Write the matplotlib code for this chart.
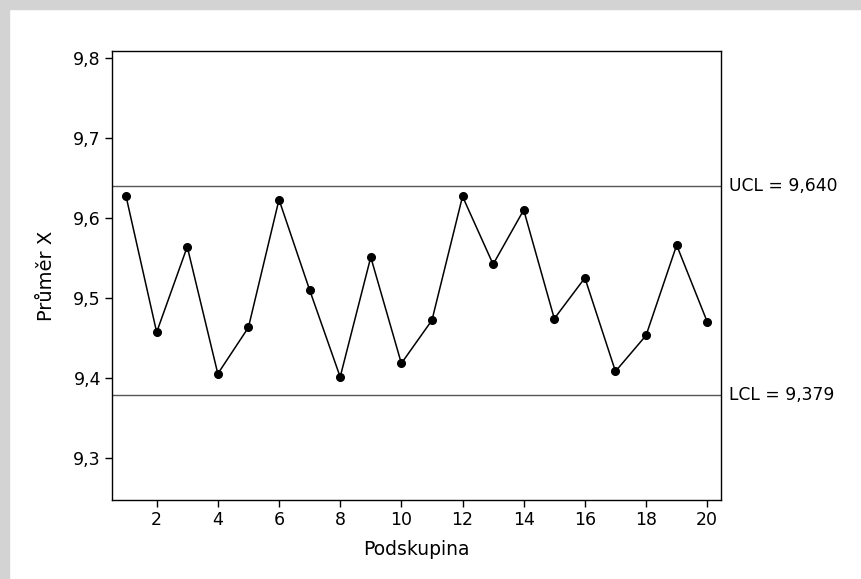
import matplotlib.pyplot as plt
from matplotlib.patches import Rectangle

# průměry podskupin
podskupina = list(range(1, 21))
prumery = [9.627, 9.457, 9.564, 9.405, 9.463, 9.623, 9.510, 9.401, 9.551, 9.418,
           9.472, 9.627, 9.542, 9.610, 9.474, 9.525, 9.408, 9.453, 9.566, 9.470]
UCL = 9.640
LCL = 9.379

y_ticks = [9.3, 9.4, 9.5, 9.6, 9.7, 9.8]
y_labels = ["9,3", "9,4", "9,5", "9,6", "9,7", "9,8"]
x_ticks = list(range(2, 21, 2))

fig = plt.figure(figsize=(8.61, 5.79), dpi=100)
# šedý rámeček nahoře a vlevo
fig.patches.append(Rectangle((0, 1 - 8.5 / 579), 1, 8.5 / 579, transform=fig.transFigure,
                             color="#d3d3d3", zorder=0))
fig.patches.append(Rectangle((0, 0), 8.5 / 861, 1, transform=fig.transFigure,
                             color="#d3d3d3", zorder=0))

ax = fig.add_axes([112 / 861, 1 - 500 / 579, (721 - 112) / 861, (500 - 51) / 579])

ax.axhline(UCL, color="#555555", lw=1.0)
ax.axhline(LCL, color="#555555", lw=1.0)
ax.plot(podskupina, prumery, color="black", lw=1.1, marker="o", markersize=5.5)

ax.set_xlim(0.54, 20.45)
ax.set_ylim(9.247, 9.809)
ax.set_xticks(x_ticks)
ax.set_yticks(y_ticks)
ax.set_yticklabels(y_labels)
ax.tick_params(direction="out", length=5, width=1, labelsize=12.5, pad=3)
for s in ax.spines.values():
    s.set_linewidth(1.0)

ax.text(1.013, UCL, "UCL = 9,640", transform=ax.get_yaxis_transform(),
        va="center", ha="left", fontsize=12.3)
ax.text(1.013, LCL, "LCL = 9,379", transform=ax.get_yaxis_transform(),
        va="center", ha="left", fontsize=12.3)

ax.set_xlabel("Podskupina", fontsize=13.5, labelpad=8)
ax.set_ylabel("Průměr X", fontsize=14, labelpad=12)

fig.savefig("out.png", dpi=100)
